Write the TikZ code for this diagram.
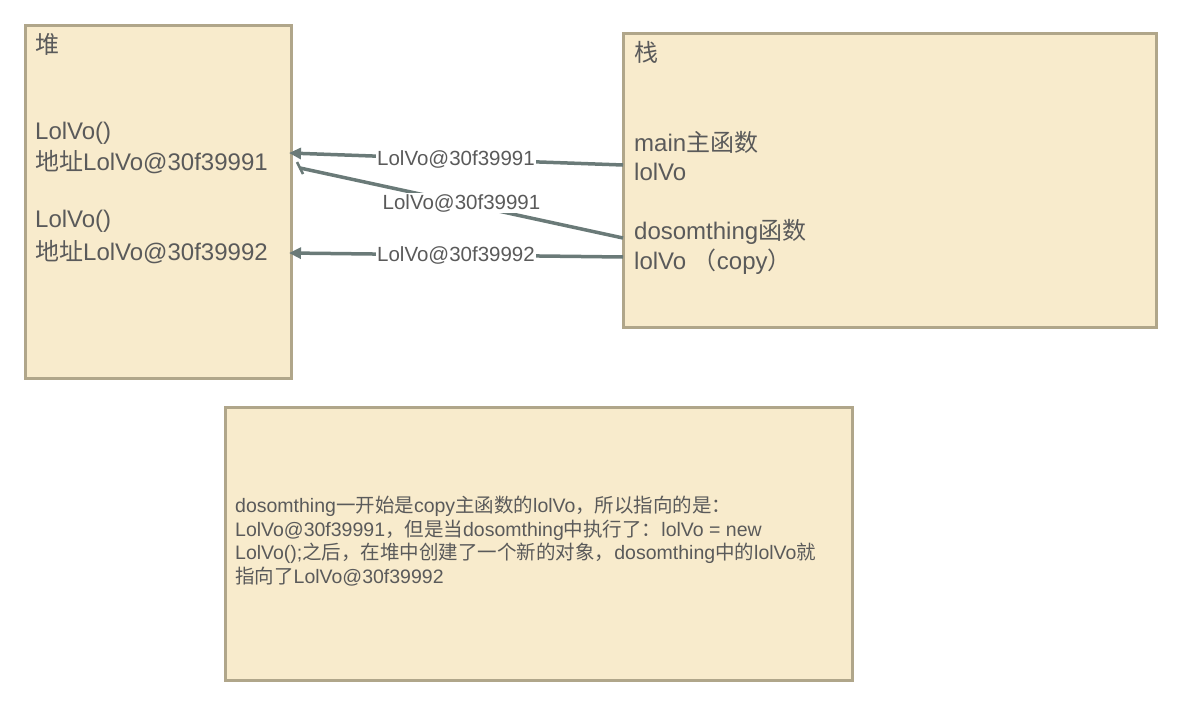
\documentclass[tikz,border=0pt]{standalone}
\usepackage{fontspec}
\setmainfont{Liberation Sans}
\newfontfamily\cjkf{Noto Sans CJK SC}
\newcommand{\zh}[1]{{\cjkf #1}}
\usetikzlibrary{arrows.meta}
\definecolor{bx}{HTML}{F8EBCC}
\definecolor{bd}{HTML}{B0A68A}
\definecolor{tx}{HTML}{5A5A5A}
\definecolor{ar}{HTML}{6A7A78}
\begin{document}
\begin{tikzpicture}[x=1pt,y=-1pt,
  box/.style={draw=bd,fill=bx,line width=3pt},
  txt/.style={anchor=west,text=tx,font=\fontsize{24}{26}\selectfont,inner sep=0pt},
  conn/.style={draw=ar,line width=3.5pt,-{Triangle[length=12pt,width=11pt]}},
  lab/.style={fill=white,text=tx,font=\fontsize{20.5}{22}\selectfont,inner sep=1pt}]
\useasboundingbox (0,0) rectangle (1181,704);
\draw[box] (25,25) rectangle (291,378);
\draw[box] (623,33) rectangle (1156,327);
\draw[box] (225,407) rectangle (852,680);
\node[txt] (h0) at (35,44) {\zh{堆}};
\node[txt] (h1) at (35,133) {LolVo()};
\node[txt] (h2) at (35,162) {\zh{地址}LolVo@30f39991};
\node[txt] (h3) at (35,221) {LolVo()};
\node[txt] (h4) at (35,252) {\zh{地址}LolVo@30f39992};
\node[txt] (s0) at (634,52) {\zh{栈}};
\node[txt] (s1) at (634,142) {main\zh{主函数}};
\node[txt] (s2) at (634,172) {lolVo};
\node[txt] (s3) at (634,232) {dosomthing\zh{函数}};
\node[txt] (s4) at (634,262) {lolVo \zh{（}copy\zh{）}};
\node[anchor=north west,text=tx,font=\fontsize{19.5}{23.5}\selectfont,inner sep=0pt,align=left] (note) at (235,496) {dosomthing\zh{一开始是}copy\zh{主函数的}lolVo\zh{，所以指向的是：}\\LolVo@30f39991\zh{，但是当}dosomthing\zh{中执行了：}lolVo = new\\LolVo();\zh{之后，在堆中创建了一个新的对象，}dosomthing\zh{中的}lolVo\zh{就}\\\zh{指向了}LolVo@30f39992};
\coordinate (a1s) at (623,165); \coordinate (a1e) at (289,153);
\coordinate (a2s) at (623,238); \coordinate (a2e) at (300,168);
\coordinate (a3s) at (623,257); \coordinate (a3e) at (289,253);
\draw[conn] (a1s) -- node[lab]{LolVo@30f39991} (a1e);
\draw[conn] (a3s) -- node[lab]{LolVo@30f39992} (a3e);
\draw[draw=ar,line width=3.5pt] (a2s) -- node[lab,pos=0.5]{LolVo@30f39991} (a2e);
\draw[draw=ar,line width=2.5pt] ([shift={(-3,-6)}]a2e) -- ([shift={(3,6)}]a2e);
\end{tikzpicture}
\end{document}
